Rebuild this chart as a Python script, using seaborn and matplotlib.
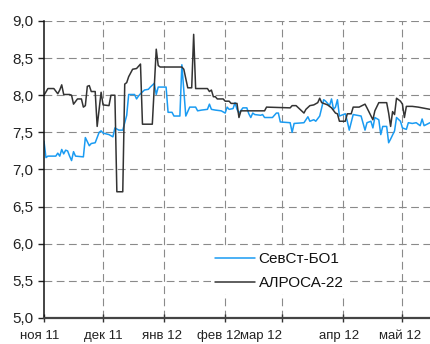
import matplotlib
matplotlib.use('Agg')
import matplotlib.pyplot as plt
import matplotlib.dates as mdates
from matplotlib.ticker import FixedLocator, FuncFormatter
import pandas as pd
import seaborn as sns

# Series
sevst_dates = [
    '2011-11-01', '2011-11-02', '2011-11-03', '2011-11-07', '2011-11-08', '2011-11-09',
    '2011-11-10', '2011-11-11', '2011-11-12', '2011-11-13', '2011-11-14', '2011-11-15',
    '2011-11-16', '2011-11-17', '2011-11-21', '2011-11-22', '2011-11-24', '2011-11-25',
    '2011-11-27', '2011-11-29', '2011-11-30', '2011-12-01', '2011-12-04', '2011-12-06',
    '2011-12-07', '2011-12-09', '2011-12-11', '2011-12-12', '2011-12-13', '2011-12-14',
    '2011-12-17', '2011-12-18', '2011-12-19', '2011-12-20', '2011-12-22', '2011-12-24',
    '2011-12-25', '2011-12-27', '2011-12-28', '2011-12-29', '2012-01-02', '2012-01-03',
    '2012-01-05', '2012-01-06', '2012-01-09', '2012-01-10', '2012-01-12', '2012-01-14',
    '2012-01-17', '2012-01-18', '2012-01-20', '2012-01-23', '2012-01-24', '2012-01-25',
    '2012-01-27', '2012-01-30', '2012-02-01', '2012-02-02', '2012-02-03', '2012-02-05',
    '2012-02-06', '2012-02-07', '2012-02-08', '2012-02-10', '2012-02-12', '2012-02-13',
    '2012-02-14', '2012-02-15', '2012-02-16', '2012-02-19', '2012-02-20', '2012-02-21',
    '2012-02-25', '2012-02-27', '2012-02-28', '2012-02-29', '2012-03-05', '2012-03-06',
    '2012-03-07', '2012-03-12', '2012-03-14', '2012-03-15', '2012-03-17', '2012-03-18',
    '2012-03-20', '2012-03-22', '2012-03-23', '2012-03-25', '2012-03-26', '2012-03-27',
    '2012-03-28', '2012-03-29', '2012-03-30', '2012-04-01', '2012-04-02', '2012-04-03',
    '2012-04-04', '2012-04-06', '2012-04-10', '2012-04-12', '2012-04-13', '2012-04-15',
    '2012-04-16', '2012-04-17', '2012-04-19', '2012-04-20', '2012-04-21', '2012-04-23',
    '2012-04-24', '2012-04-25', '2012-04-27', '2012-04-28', '2012-04-30', '2012-05-01',
    '2012-05-03', '2012-05-04', '2012-05-06', '2012-05-08', '2012-05-10', '2012-05-11',
    '2012-05-12', '2012-05-15',
]
sevst_values = [
    7.38, 7.16, 7.18, 7.18, 7.22, 7.18,
    7.27, 7.21, 7.26, 7.25, 7.18, 7.12,
    7.24, 7.18, 7.17, 7.43, 7.32, 7.35,
    7.36, 7.50, 7.52, 7.49, 7.47, 7.44,
    7.56, 7.53, 7.53, 7.63, 7.73, 8.01,
    8.01, 7.95, 7.99, 8.02, 8.07, 8.08,
    8.11, 8.16, 8.01, 8.11, 8.11, 7.77,
    7.77, 7.72, 7.72, 8.41, 7.72, 7.84,
    7.84, 7.79, 7.80, 7.81, 7.88, 7.81,
    7.80, 7.79, 7.76, 7.84, 7.81, 7.82,
    7.90, 7.81, 7.76, 7.83, 7.83, 7.75,
    7.70, 7.76, 7.74, 7.73, 7.74, 7.70,
    7.70, 7.76, 7.76, 7.64, 7.63, 7.50,
    7.62, 7.63, 7.71, 7.65, 7.67, 7.65,
    7.72, 7.94, 7.92, 7.86, 7.95, 7.81,
    7.84, 7.94, 7.72, 7.74, 7.75, 7.65,
    7.53, 7.74, 7.72, 7.53, 7.63, 7.65,
    7.56, 7.70, 7.67, 7.47, 7.58, 7.58,
    7.36, 7.41, 7.52, 7.70, 7.65, 7.56,
    7.54, 7.63, 7.62, 7.63, 7.59, 7.68,
    7.59, 7.63,
]

alrosa_dates = [
    '2011-11-01', '2011-11-03', '2011-11-06', '2011-11-08', '2011-11-09', '2011-11-10',
    '2011-11-11', '2011-11-14', '2011-11-15', '2011-11-16', '2011-11-18', '2011-11-20',
    '2011-11-21', '2011-11-22', '2011-11-23', '2011-11-24', '2011-11-25', '2011-11-27',
    '2011-11-28', '2011-11-30', '2011-12-01', '2011-12-04', '2011-12-05', '2011-12-07',
    '2011-12-08', '2011-12-11', '2011-12-12', '2011-12-13', '2011-12-14', '2011-12-16',
    '2011-12-18', '2011-12-20', '2011-12-21', '2011-12-26', '2011-12-28', '2011-12-29',
    '2011-12-30', '2012-01-10', '2012-01-11', '2012-01-13', '2012-01-15', '2012-01-16',
    '2012-01-17', '2012-01-23', '2012-01-24', '2012-01-25', '2012-01-26', '2012-01-27',
    '2012-01-28', '2012-01-31', '2012-02-01', '2012-02-03', '2012-02-04', '2012-02-07',
    '2012-02-08', '2012-02-09', '2012-02-21', '2012-02-22', '2012-03-05', '2012-03-06',
    '2012-03-08', '2012-03-12', '2012-03-13', '2012-03-15', '2012-03-17', '2012-03-19',
    '2012-03-20', '2012-03-21', '2012-03-24', '2012-03-26', '2012-03-28', '2012-03-29',
    '2012-03-30', '2012-04-02', '2012-04-03', '2012-04-05', '2012-04-06', '2012-04-09',
    '2012-04-12', '2012-04-13', '2012-04-16', '2012-04-17', '2012-04-19', '2012-04-23',
    '2012-04-24', '2012-04-25', '2012-04-26', '2012-04-27', '2012-04-28', '2012-04-30',
    '2012-05-01', '2012-05-02', '2012-05-03', '2012-05-06', '2012-05-09', '2012-05-15',
]
alrosa_values = [
    8.00, 8.09, 8.09, 8.02, 8.07, 8.14,
    8.01, 8.01, 8.00, 7.88, 7.95, 7.95,
    7.84, 7.86, 8.12, 8.13, 8.05, 8.05,
    7.58, 8.04, 7.87, 7.86, 8.00, 8.00,
    6.70, 6.70, 8.15, 8.17, 8.25, 8.35,
    8.36, 8.42, 7.61, 7.61, 8.62, 8.40,
    8.38, 8.38, 8.35, 8.10, 8.10, 8.82,
    8.09, 8.09, 8.05, 8.07, 7.98, 7.98,
    7.95, 7.95, 7.92, 7.92, 7.89, 7.89,
    7.70, 7.79, 7.79, 7.84, 7.83, 7.86,
    7.86, 7.76, 7.81, 7.86, 7.87, 7.90,
    7.96, 7.90, 7.87, 7.83, 7.76, 7.75,
    7.65, 7.65, 7.75, 7.75, 7.84, 7.84,
    7.88, 7.83, 7.67, 7.79, 7.90, 7.90,
    7.76, 7.58, 7.78, 7.74, 7.96, 7.92,
    7.88, 7.70, 7.85, 7.85, 7.84, 7.81,
]

series_names = ['СевСт-БО1', 'АЛРОСА-22']
series_colors = ['#1a9bf2', '#333333']

month_starts = ['2011-11-01', '2011-12-01', '2012-01-01', '2012-02-01',
                '2012-03-01', '2012-04-01', '2012-05-01']
month_labels = ['ноя 11', 'дек 11', 'янв 12', 'фев 12', 'мар 12', 'апр 12', 'май 12']
# label centres sit a little off the month ticks in the original
label_dates = ['2011-10-30', '2011-12-01', '2011-12-31', '2012-01-29',
               '2012-02-19', '2012-03-30', '2012-04-30']

y_ticks = [5.0, 5.5, 6.0, 6.5, 7.0, 7.5, 8.0, 8.5, 9.0]


def main():
    sns.set_style('white')
    plt.rcParams['font.family'] = ['Liberation Sans', 'DejaVu Sans']

    df = pd.concat([
        pd.DataFrame({'date': pd.to_datetime(sevst_dates), 'value': sevst_values,
                      'bond': series_names[0]}),
        pd.DataFrame({'date': pd.to_datetime(alrosa_dates), 'value': alrosa_values,
                      'bond': series_names[1]}),
    ], ignore_index=True)

    fig = plt.figure(figsize=(4.3, 3.44), dpi=100)
    ax = fig.add_axes([0.1023, 0.0756, 0.8977, 0.8634])

    sns.lineplot(data=df, x='date', y='value', hue='bond', hue_order=series_names,
                 palette=series_colors, linewidth=1.1, ax=ax, estimator=None)

    ax.set_xlim(pd.Timestamp('2011-11-01'), pd.Timestamp('2012-05-15'))
    ax.set_ylim(5.0, 9.0)
    ax.set_xlabel('')
    ax.set_ylabel('')

    # grid
    grid_kw = dict(color='#8a8a8a', linewidth=0.8, linestyle=(0, (7, 4)), zorder=0)
    for yv in y_ticks[1:]:
        ax.axhline(yv, **grid_kw)
    for d in month_starts[1:]:
        ax.axvline(pd.Timestamp(d), **grid_kw)

    # spines
    ax.spines['top'].set_visible(False)
    ax.spines['right'].set_visible(False)
    ax.spines['left'].set_color('#111111')
    ax.spines['left'].set_linewidth(1.1)
    ax.spines['bottom'].set_color('#444444')
    ax.spines['bottom'].set_linewidth(1.6)

    # y axis
    ax.yaxis.set_major_locator(FixedLocator(y_ticks))
    ax.yaxis.set_major_formatter(FuncFormatter(lambda v, p: f'{v:.1f}'.replace('.', ',')))
    ax.tick_params(axis='y', direction='out', length=4.5, width=1, color='#222222',
                   labelsize=11, labelcolor='#222222', pad=3, left=True)

    # x axis: month ticks, labels placed as text
    ax.xaxis.set_major_locator(FixedLocator(mdates.date2num(pd.to_datetime(month_starts))))
    ax.xaxis.set_major_formatter(FuncFormatter(lambda v, p: ''))
    ax.tick_params(axis='x', direction='inout', length=6, width=1, color='#333333',
                   bottom=True)
    for d, lab in zip(label_dates, month_labels):
        ax.text(pd.Timestamp(d), -0.042, lab, transform=ax.get_xaxis_transform(),
                ha='center', va='top', fontsize=9.5, color='#222222', clip_on=False)

    leg = ax.legend(loc='center left', bbox_to_anchor=(0.433, 0.157), frameon=True,
                    fontsize=11, handlelength=2.6, handletextpad=0.25,
                    labelspacing=0.65, borderpad=0.25, borderaxespad=0)
    leg.get_frame().set_facecolor('white')
    leg.get_frame().set_edgecolor('none')
    leg.get_frame().set_alpha(1)
    for line in leg.get_lines():
        line.set_linewidth(1.1)
    for t in leg.get_texts():
        t.set_color('#111111')

    fig.savefig('out.png', dpi=100)


if __name__ == '__main__':
    main()
